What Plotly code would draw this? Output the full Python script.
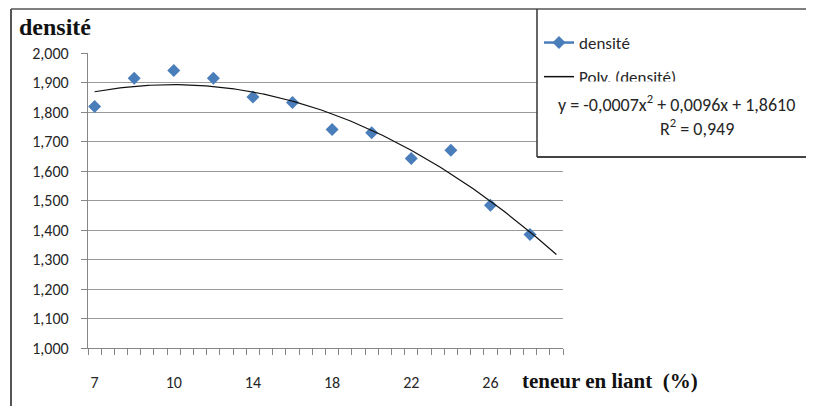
import numpy as np
import plotly.graph_objects as go

# ---- data ----
# category slots on the x axis (Excel category axis, 36 slots)
point_slots = [1, 4, 7, 10, 13, 16, 19, 22, 25, 28, 31, 34]
densite = [1.819, 1.914, 1.941, 1.914, 1.851, 1.832, 1.741, 1.730, 1.642, 1.670, 1.484, 1.385]
label_slots = [1, 7, 13, 19, 25, 31]
label_text = ["7", "10", "14", "18", "22", "26"]
n_slots = 36

equation = "y = -0,0007x<sup>2</sup> + 0,0096x + 1,8610"
r2_text = "R<sup>2</sup> = 0,949"

# ---- geometry helpers (reference pixel coords; page body adds 8px offset) ----
OFF = 8
W, H = 814 - OFF, 414 - 2 * OFF
L, R, T, B = 88 - OFF, 563 - OFF, 53 - OFF, 348 - OFF


def px(x):
    return (x - OFF - L) / (R - L)


def py(y):
    return (B - (y - OFF)) / (B - T)


BLUE = "#4A7EBB"
GRID = "#9a9a9a"
AXIS = "#868686"
TXT = "#262626"
NUM_FONT = "Carlito, Lato, sans-serif"
SERIF = "Liberation Serif, Times New Roman, serif"

# polynomial trend (order 2) fitted to the series, like Excel does
coef = np.polyfit(point_slots, densite, 2)
tx = np.linspace(1, n_slots, 200)
ty = np.polyval(coef, tx)

fig = go.Figure()
fig.add_trace(go.Scatter(
    x=point_slots, y=densite, mode="markers", showlegend=False,
    marker=dict(symbol="diamond", size=10, color=BLUE),
    name="densité"))
fig.add_trace(go.Scatter(
    x=tx, y=ty, mode="lines", showlegend=False,
    line=dict(color="#111111", width=1.2), name="Poly. (densité)"))
# legend entries
fig.add_trace(go.Scatter(
    x=[None], y=[None], mode="lines+markers", name="densité",
    legendgroup="a",
    line=dict(color=BLUE, width=2.5),
    marker=dict(symbol="diamond", size=10, color=BLUE)))
fig.add_trace(go.Scatter(
    x=[None], y=[None], mode="lines", name="Poly. (densité)",
    legendgroup="b",
    line=dict(color="#111111", width=1.5)))


def seg(x0, y0, x1, y1, color, width, layer="above"):
    return dict(type="line", xref="paper", yref="paper",
                x0=px(x0), y0=py(y0), x1=px(x1), y1=py(y1),
                line=dict(color=color, width=width), layer=layer)


shapes = [
    # outer chart border (left + top edges visible)
    seg(11, 9, 11, 430, "#555555", 2, "below"),
    seg(11, 9, 830, 9, "#555555", 1.5, "below"),
    # legend / equation box: white fill, then left + bottom edges
    dict(type="rect", xref="paper", yref="paper",
         x0=px(537), x1=px(830), y0=py(10), y1=py(157),
         line=dict(width=0), fillcolor="white", layer="above"),
    seg(537, 9, 537, 157, "#333333", 1.5),
    seg(537, 157, 830, 157, "#444444", 2),
]

annotations = [
    dict(text="<b>densité</b>", xref="paper", yref="paper", x=px(17), y=py(27),
         xanchor="left", yanchor="middle", showarrow=False,
         font=dict(family=SERIF, size=24, color="#111111")),
    dict(text="<b>teneur en liant \u00a0(%)</b>", xref="paper", yref="paper", x=px(520), y=py(381),
         xanchor="left", yanchor="middle", showarrow=False,
         font=dict(family=SERIF, size=21, color="#111111")),
    dict(text=equation, xref="paper", yref="paper", x=px(676), y=py(103),
         xanchor="center", yanchor="middle", showarrow=False, bgcolor="white",
         borderpad=9,
         font=dict(family=NUM_FONT, size=18, color=TXT)),
    dict(text=r2_text, xref="paper", yref="paper", x=px(697), y=py(127),
         xanchor="center", yanchor="middle", showarrow=False,
         font=dict(family=NUM_FONT, size=18, color=TXT)),
]

fig.update_layout(
    width=W, height=H,
    margin=dict(l=L, r=W - R, t=T, b=H - B, autoexpand=False),
    paper_bgcolor="white", plot_bgcolor="white",
    separators=", ",
    font=dict(family=NUM_FONT, size=16, color=TXT),
    shapes=shapes, annotations=annotations,
    legend=dict(xref="container", yref="container",
                x=531 / W, y=1 - 17 / H, xanchor="left", yanchor="top",
                bgcolor="rgba(0,0,0,0)", borderwidth=0,
                tracegroupgap=9,
                font=dict(family=NUM_FONT, size=17, color=TXT)),
)

fig.update_xaxes(
    range=[0.5, n_slots + 0.5], tickmode="array",
    tickvals=label_slots, ticktext=label_text,
    ticks="", showgrid=False, zeroline=False,
    showline=True, linecolor=AXIS, linewidth=1.3,
    ticklabelstandoff=20,
    tickfont=dict(family=NUM_FONT, size=16, color=TXT),
    minor=dict(tickmode="linear", tick0=0.5, dtick=1, ticks="outside",
               ticklen=6, tickcolor=AXIS, tickwidth=1.2, showgrid=False),
)
fig.update_yaxes(
    range=[1.0, 2.0], dtick=0.1, tick0=1.0, tickformat=".3f",
    showgrid=True, gridcolor=GRID, gridwidth=1.3, zeroline=False,
    showline=True, linecolor=AXIS, linewidth=1.3,
    ticks="outside", ticklen=6, tickcolor=AXIS, tickwidth=1.2,
    ticklabelstandoff=9,
    tickfont=dict(family=NUM_FONT, size=16, color=TXT),
)

fig.write_html("out.html")
